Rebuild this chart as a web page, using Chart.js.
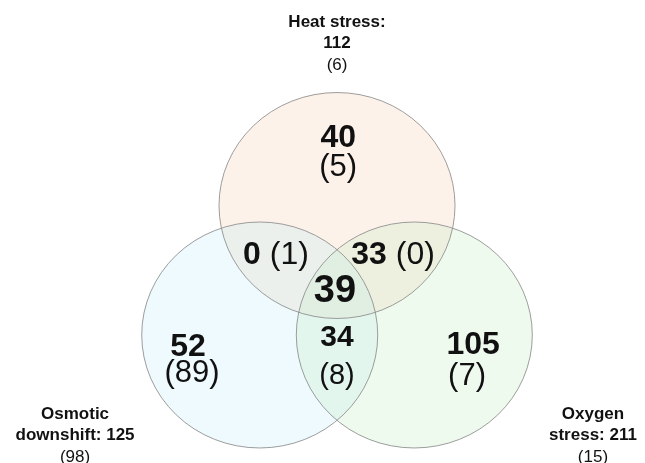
<!DOCTYPE html>
<html>
<head>
<meta charset="utf-8">
<script src="https://cdn.jsdelivr.net/npm/chart.js@4/dist/chart.umd.min.js"></script>
<style>
  html, body { margin: 0; padding: 0; background: #fff; }
  #wrap { width: 645px; height: 463px; }
</style>
</head>
<body>
<div id="wrap"><canvas id="venn" width="645" height="463"></canvas></div>
<script>
// sets (heat, osmotic, oxygen)
const setNames = ['Heat stress:', 'Osmotic', 'Oxygen'];
const setNames2 = ['', 'downshift:', 'stress:'];
const setTotals = [112, 125, 211];
const setParens = [6, 98, 15];

// circle centres in diagram units (radius = 1)
const circleX = [0, -0.655, 0.655];
const circleY = [0.573, -0.573, -0.573];
const circleR = [1, 1, 1];

// regions: heat only, osmotic only, oxygen only, heat+osm, heat+oxy, osm+oxy, all
const regionCounts = [40, 52, 105, 0, 33, 34, 39];
const regionParens = [5, 89, 7, 1, 0, 8, null];

const COLORS = {
  ink: '#111',
  edge: 'rgba(140, 140, 140, 0.85)',
  fills: ['rgba(243, 190, 150, 0.2)', 'rgba(187, 235, 247, 0.25)', 'rgba(191, 235, 191, 0.25)']
};

const FONT = '"Liberation Sans", Arial, sans-serif';

// label anchors in diagram units
const countAnchors = [[0.01, 1.17], [-1.263, -0.679], [1.153, -0.664], [-0.517, 0.135], [0.475, 0.135], [0, -0.6], [-0.017, -0.192]];
const parenAnchors = [[0.01, 0.914], [-1.229, -0.909], [1.102, -0.937], null, null, [0, -0.936], null];
const setAnchors = [[0, 2.197], [-2.22, -1.272], [2.169, -1.272]];

const vennPlugin = {
  id: 'vennDraw',
  beforeDatasetsDraw(chart) {
    const { ctx, scales: { x, y } } = chart;
    ctx.save();
    circleX.forEach((cx, i) => {
      const px = x.getPixelForValue(cx);
      const py = y.getPixelForValue(circleY[i]);
      const rx = Math.abs(x.getPixelForValue(cx + circleR[i]) - px);
      const ry = Math.abs(y.getPixelForValue(circleY[i] + circleR[i]) - py);
      ctx.beginPath();
      ctx.ellipse(px, py, rx, ry, 0, 0, Math.PI * 2);
      ctx.fillStyle = COLORS.fills[i];
      ctx.fill();
    });
    ctx.lineWidth = 1;
    ctx.strokeStyle = COLORS.edge;
    circleX.forEach((cx, i) => {
      const px = x.getPixelForValue(cx);
      const py = y.getPixelForValue(circleY[i]);
      const rx = Math.abs(x.getPixelForValue(cx + circleR[i]) - px);
      const ry = Math.abs(y.getPixelForValue(circleY[i] + circleR[i]) - py);
      ctx.beginPath();
      ctx.ellipse(px, py, rx, ry, 0, 0, Math.PI * 2);
      ctx.stroke();
    });
    ctx.restore();
  },
  afterDatasetsDraw(chart) {
    const { ctx, scales: { x, y } } = chart;
    ctx.save();
    ctx.fillStyle = COLORS.ink;
    ctx.textBaseline = 'middle';

    regionCounts.forEach((count, i) => {
      const [ax, ay] = countAnchors[i];
      const px = x.getPixelForValue(ax);
      const py = y.getPixelForValue(ay);
      const size = i === 6 ? 38 : (i === 5 ? 30 : 32);
      const bold = `bold ${size}px ${FONT}`;
      const reg = `${size}px ${FONT}`;
      const paren = regionParens[i];
      if (paren !== null && !parenAnchors[i]) {
        // one line: bold count + (paren)
        const a = `${count} `;
        const b = `(${paren})`;
        ctx.font = bold;
        const wa = ctx.measureText(a).width;
        ctx.font = reg;
        const wb = ctx.measureText(b).width;
        const left = px - (wa + wb) / 2;
        ctx.textAlign = 'left';
        ctx.font = bold;
        ctx.fillText(a, left, py);
        ctx.font = reg;
        ctx.fillText(b, left + wa, py);
      } else {
        ctx.textAlign = 'center';
        ctx.font = bold;
        ctx.fillText(String(count), px, py);
        if (paren !== null) {
          const [bx, by] = parenAnchors[i];
          ctx.font = size === 30 ? `29px ${FONT}` : `31px ${FONT}`;
          ctx.fillText(`(${paren})`, x.getPixelForValue(bx), y.getPixelForValue(by));
        }
      }
    });

    ctx.textAlign = 'center';
    setNames.forEach((name, i) => {
      const [ax, ay] = setAnchors[i];
      const px = x.getPixelForValue(ax);
      const py = y.getPixelForValue(ay);
      const lines = i === 0
        ? [name, `${setTotals[i]}`]
        : [name, `${setNames2[i]} ${setTotals[i]}`];
      ctx.font = `bold 17px ${FONT}`;
      lines.forEach((line, k) => ctx.fillText(line, px, py + k * 21.5));
      ctx.font = `17px ${FONT}`;
      ctx.fillText(`(${setParens[i]})`, px, py + 2 * 21.5);
    });
    ctx.restore();
  }
};

new Chart(document.getElementById('venn'), {
  type: 'scatter',
  data: {
    datasets: [{
      label: 'centres',
      data: circleX.map((cx, i) => ({ x: cx, y: circleY[i] })),
      pointRadius: 0
    }]
  },
  options: {
    responsive: false,
    animation: false,
    layout: { padding: 0 },
    plugins: { legend: { display: false }, tooltip: { enabled: false } },
    scales: {
      x: { type: 'linear', display: false, min: -2.856, max: 2.61 },
      y: { type: 'linear', display: false, min: -1.706, max: 2.392 }
    }
  },
  plugins: [vennPlugin]
});
</script>
</body>
</html>
